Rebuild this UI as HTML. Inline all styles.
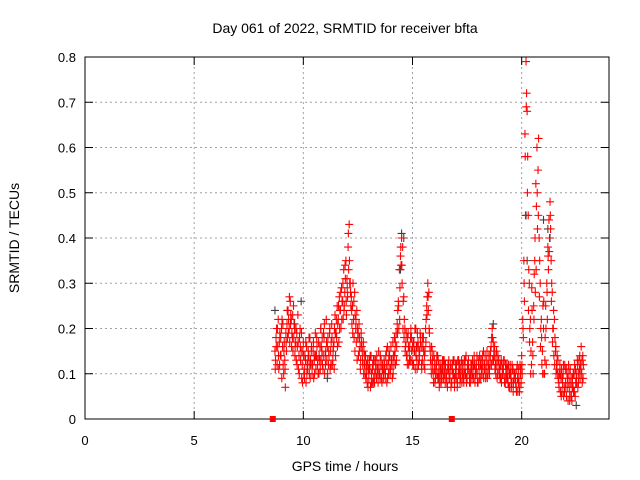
<!DOCTYPE html>
<html><head><meta charset="utf-8"><style>
body{margin:0;background:#fff;}
svg{display:block;font-family:"Liberation Sans",sans-serif;}
</style></head><body>
<svg id="chart" width="640" height="480" viewBox="0 0 640 480">
<rect width="640" height="480" fill="#fff"/>
<text x="345" y="33" font-size="14" text-anchor="middle">Day 061 of 2022, SRMTID for receiver bfta</text>
<text transform="translate(19,238) rotate(-90)" font-size="14" text-anchor="middle">SRMTID / TECUs</text>
<text x="345" y="471" font-size="14" text-anchor="middle">GPS time / hours</text>
<g id="grid"></g><g id="axes"></g><g id="marks"></g>
</svg>
<script>
const xTicks=[0,5,10,15,20];
const yTicks=[0,0.1,0.2,0.3,0.4,0.5,0.6,0.7,0.8];
const yTickLabels=["0","0.1","0.2","0.3","0.4","0.5","0.6","0.7","0.8"];
const redAStart=8.70, redBStart=8.725, redCStart=8.7125, stepH=0.05;
const redA=[0.15,0.18,0.12,0.22,0.17,0.14,0.2,0.16,0.1,0.13,0.19,0.21,0.24,0.2,0.26,0.22,0.18,0.25,0.2,0.17,
0.19,0.23,0.14,0.2,0.15,0.12,0.17,0.09,0.13,0.16,0.11,0.14,0.18,0.12,0.1,0.15,0.13,0.19,0.14,0.12,
0.17,0.13,0.2,0.15,0.11,0.18,0.14,0.22,0.16,0.12,0.19,0.15,0.21,0.13,0.17,0.23,0.19,0.25,0.22,0.27,
0.24,0.29,0.26,0.33,0.28,0.35,0.31,0.38,0.43,0.3,0.27,0.25,0.22,0.28,0.2,0.24,0.18,0.21,0.16,0.19,
0.15,0.17,0.12,0.14,0.1,0.13,0.09,0.11,0.14,0.08,0.12,0.1,0.13,0.09,0.11,0.15,0.1,0.12,0.08,0.11,
0.13,0.09,0.12,0.16,0.1,0.14,0.11,0.13,0.17,0.12,0.15,0.19,0.21,0.26,0.33,0.36,0.4,0.38,0.27,0.2,
0.17,0.14,0.19,0.15,0.13,0.18,0.16,0.12,0.15,0.2,0.13,0.17,0.14,0.19,0.16,0.13,0.18,0.14,0.2,0.25,
0.3,0.28,0.16,0.12,0.15,0.1,0.13,0.09,0.12,0.14,0.1,0.08,0.12,0.09,0.11,0.13,0.08,0.1,0.07,0.11,
0.09,0.12,0.08,0.1,0.13,0.09,0.11,0.07,0.1,0.12,0.09,0.13,0.1,0.08,0.11,0.14,0.09,0.12,0.1,0.08,
0.11,0.13,0.09,0.12,0.1,0.14,0.08,0.11,0.13,0.1,0.12,0.15,0.11,0.09,0.13,0.1,0.14,0.12,0.16,0.2,
0.17,0.14,0.12,0.15,0.1,0.13,0.11,0.09,0.12,0.1,0.13,0.08,0.11,0.09,0.12,0.07,0.1,0.08,0.11,0.09,
0.1,0.07,0.12,0.08,0.06,0.1,0.14,0.22,0.35,0.63,0.79,0.68,0.45,0.3,0.22,0.12,0.17,0.25,0.35,0.52,
0.6,0.55,0.4,0.3,0.22,0.15,0.2,0.1,0.25,0.3,0.38,0.44,0.48,0.35,0.28,0.2,0.22,0.15,0.12,0.1,
0.08,0.12,0.09,0.06,0.1,0.07,0.11,0.05,0.09,0.12,0.06,0.08,0.04,0.07,0.1,0.05,0.09,0.13,0.08,0.11,
0.12,0.1,0.14];
const redB=[0.13,0.2,0.16,0.11,0.19,0.14,0.22,0.12,0.17,0.07,0.15,0.18,0.22,0.17,0.23,0.19,0.15,0.21,0.16,0.13,
0.16,0.11,0.18,0.13,0.09,0.15,0.1,0.14,0.08,0.12,0.15,0.1,0.13,0.16,0.12,0.09,0.14,0.11,0.16,0.1,
0.14,0.11,0.16,0.12,0.19,0.1,0.15,0.13,0.18,0.14,0.11,0.17,0.12,0.16,0.2,0.14,0.18,0.21,0.17,0.24,
0.2,0.26,0.22,0.25,0.31,0.23,0.27,0.33,0.3,0.25,0.21,0.3,0.18,0.23,0.17,0.2,0.14,0.18,0.13,0.16,
0.12,0.15,0.1,0.12,0.08,0.11,0.13,0.07,0.1,0.12,0.09,0.13,0.1,0.12,0.08,0.1,0.14,0.09,0.12,0.1,
0.11,0.14,0.08,0.12,0.15,0.1,0.13,0.09,0.14,0.18,0.12,0.16,0.24,0.2,0.29,0.34,0.3,0.26,0.22,0.16,
0.14,0.18,0.12,0.16,0.2,0.13,0.17,0.15,0.11,0.16,0.19,0.12,0.15,0.18,0.11,0.16,0.12,0.15,0.22,0.27,
0.24,0.19,0.13,0.16,0.11,0.14,0.08,0.12,0.1,0.13,0.07,0.11,0.1,0.13,0.09,0.12,0.1,0.08,0.12,0.09,
0.11,0.08,0.12,0.1,0.07,0.12,0.09,0.13,0.11,0.08,0.12,0.1,0.09,0.13,0.1,0.08,0.12,0.11,0.09,0.12,
0.09,0.11,0.14,0.1,0.12,0.08,0.12,0.14,0.09,0.13,0.1,0.12,0.14,0.11,0.09,0.12,0.1,0.15,0.18,0.13,
0.15,0.11,0.14,0.09,0.13,0.1,0.12,0.08,0.11,0.13,0.09,0.1,0.12,0.08,0.1,0.12,0.07,0.11,0.08,0.1,
0.08,0.11,0.06,0.09,0.12,0.08,0.1,0.18,0.26,0.45,0.72,0.58,0.33,0.2,0.15,0.24,0.1,0.32,0.28,0.47,
0.42,0.62,0.35,0.2,0.12,0.25,0.1,0.18,0.12,0.22,0.33,0.4,0.42,0.3,0.2,0.14,0.18,0.1,0.14,0.09,
0.1,0.06,0.11,0.08,0.05,0.12,0.07,0.1,0.04,0.08,0.11,0.05,0.09,0.06,0.12,0.08,0.1,0.07,0.13,0.09,
0.16,0.08,0.12];
const redC=[0.11,0.16,0.2,0.14,0.12,0.18,0.09,0.21,0.15,0.11,0.17,0.24,0.19,0.27,0.21,0.16,0.23,0.18,0.14,0.2,
0.12,0.17,0.1,0.16,0.19,0.08,0.14,0.11,0.17,0.1,0.13,0.18,0.09,0.15,0.12,0.17,0.1,0.14,0.18,0.13,
0.1,0.16,0.13,0.18,0.14,0.21,0.12,0.17,0.1,0.15,0.2,0.12,0.18,0.15,0.11,0.19,0.22,0.16,0.25,0.2,
0.28,0.22,0.3,0.24,0.34,0.26,0.29,0.41,0.35,0.28,0.24,0.19,0.26,0.15,0.22,0.13,0.19,0.15,0.11,0.17,
0.13,0.1,0.14,0.09,0.12,0.07,0.11,0.14,0.08,0.11,0.13,0.08,0.11,0.14,0.1,0.12,0.09,0.13,0.11,0.09,
0.12,0.1,0.15,0.09,0.13,0.11,0.16,0.12,0.1,0.14,0.17,0.13,0.19,0.25,0.22,0.38,0.34,0.2,0.18,0.15,
0.19,0.12,0.16,0.13,0.18,0.15,0.12,0.17,0.2,0.14,0.11,0.16,0.13,0.17,0.12,0.18,0.15,0.11,0.17,0.23,
0.27,0.2,0.15,0.1,0.13,0.08,0.11,0.1,0.14,0.09,0.12,0.1,0.08,0.11,0.13,0.1,0.12,0.09,0.11,0.13,
0.1,0.07,0.11,0.13,0.09,0.1,0.12,0.08,0.13,0.1,0.11,0.08,0.12,0.1,0.13,0.09,0.11,0.13,0.08,0.1,
0.12,0.1,0.12,0.08,0.11,0.1,0.13,0.09,0.12,0.11,0.14,0.09,0.12,0.1,0.15,0.12,0.11,0.14,0.12,0.18,
0.13,0.16,0.1,0.12,0.14,0.11,0.09,0.13,0.1,0.11,0.08,0.12,0.09,0.11,0.07,0.1,0.09,0.12,0.06,0.1,
0.09,0.06,0.09,0.11,0.07,0.11,0.12,0.2,0.3,0.58,0.69,0.5,0.24,0.17,0.1,0.29,0.14,0.22,0.4,0.33,
0.5,0.45,0.27,0.16,0.18,0.1,0.26,0.13,0.2,0.28,0.36,0.37,0.45,0.26,0.17,0.24,0.12,0.16,0.11,0.13,
0.07,0.1,0.05,0.09,0.12,0.06,0.08,0.11,0.07,0.1,0.05,0.09,0.07,0.1,0.06,0.11,0.08,0.12,0.1,0.14,
0.11,0.13,0.09];
const grayTimes=[8.7,8.8,9.6,9.9,10.3,10.8,11.1,12.5,13.2,14.45,14.5,14.6,15.2,16.2,17.3,18.7,19.5,20.2,20.25,21.0,21.2,21.3,22.2,22.5];
const grayVals=[0.24,0.2,0.21,0.26,0.12,0.2,0.09,0.18,0.08,0.33,0.41,0.4,0.16,0.09,0.12,0.21,0.1,0.45,0.35,0.44,0.42,0.4,0.04,0.03];
const gapTimes=[8.6,16.8];

const X0=85,X1=609,Y0=419,Y1=57,XMAX=24,YMAX=0.8;
const xs=t=>X0+(X1-X0)*t/XMAX;
const ys=v=>Y0-(Y0-Y1)*v/YMAX;
const NS="http://www.w3.org/2000/svg";
function mk(tag,attrs,parent){const e=document.createElementNS(NS,tag);for(const k in attrs)e.setAttribute(k,attrs[k]);parent.appendChild(e);return e;}
const grid=document.getElementById('grid'),axes=document.getElementById('axes'),marks=document.getElementById('marks');
yTicks.forEach((v,i)=>{
  const y=ys(v);
  if(i>0&&i<yTicks.length-1){const g=mk('line',{x1:X0,x2:X1,y1:y,y2:y,stroke:'#a0a0a0','stroke-dasharray':'2,3'},grid);
  
  }
  mk('line',{x1:X0,x2:X0+8,y1:y,y2:y,stroke:'#000'},axes);
  mk('line',{x1:X1,x2:X1-8,y1:y,y2:y,stroke:'#000'},axes);
  const t=mk('text',{x:X0-9,y:y+5,'font-size':13,'text-anchor':'end'},axes);
  t.textContent=yTickLabels[i];
  
  
});
xTicks.forEach(v=>{
  const x=xs(v);
  if(v>0){const g=mk('line',{x1:x,x2:x,y1:Y0,y2:Y1,stroke:'#a0a0a0','stroke-dasharray':'2,3'},grid);
  
  }
  mk('line',{x1:x,x2:x,y1:Y0,y2:Y0-8,stroke:'#000'},axes);
  mk('line',{x1:x,x2:x,y1:Y1,y2:Y1+8,stroke:'#000'},axes);
  const t=mk('text',{x:x,y:Y0+26,'font-size':13,'text-anchor':'middle'},axes);
  t.textContent=String(v);
  
  
});
const border=mk('rect',{x:X0,y:Y1,width:X1-X0,height:Y0-Y1,fill:'none',stroke:'#000'},axes);


function plus(t,v,color,name){
  const x=xs(t),y=ys(v);
  const p=mk('path',{d:`M${x-4},${y}H${x+4}M${x},${y-4}V${y+4}`,stroke:color,'stroke-width':1.1,fill:'none'},marks);
  
  
}
grayTimes.forEach((t,i)=>plus(t,grayVals[i],'#404040','gray-point'));
redA.forEach((v,i)=>plus(redAStart+i*stepH,v,'#ff0000','red-point'));
redB.forEach((v,i)=>plus(redBStart+i*stepH,v,'#ff0000','red-point'));
redC.forEach((v,i)=>plus(redCStart+i*stepH,v,'#ff0000','red-point'));
gapTimes.forEach(t=>{
  const r=mk('rect',{x:xs(t)-3,y:Y0-3,width:6,height:6,fill:'#ff0000'},marks);
  
  
});
</script>
</body></html>
